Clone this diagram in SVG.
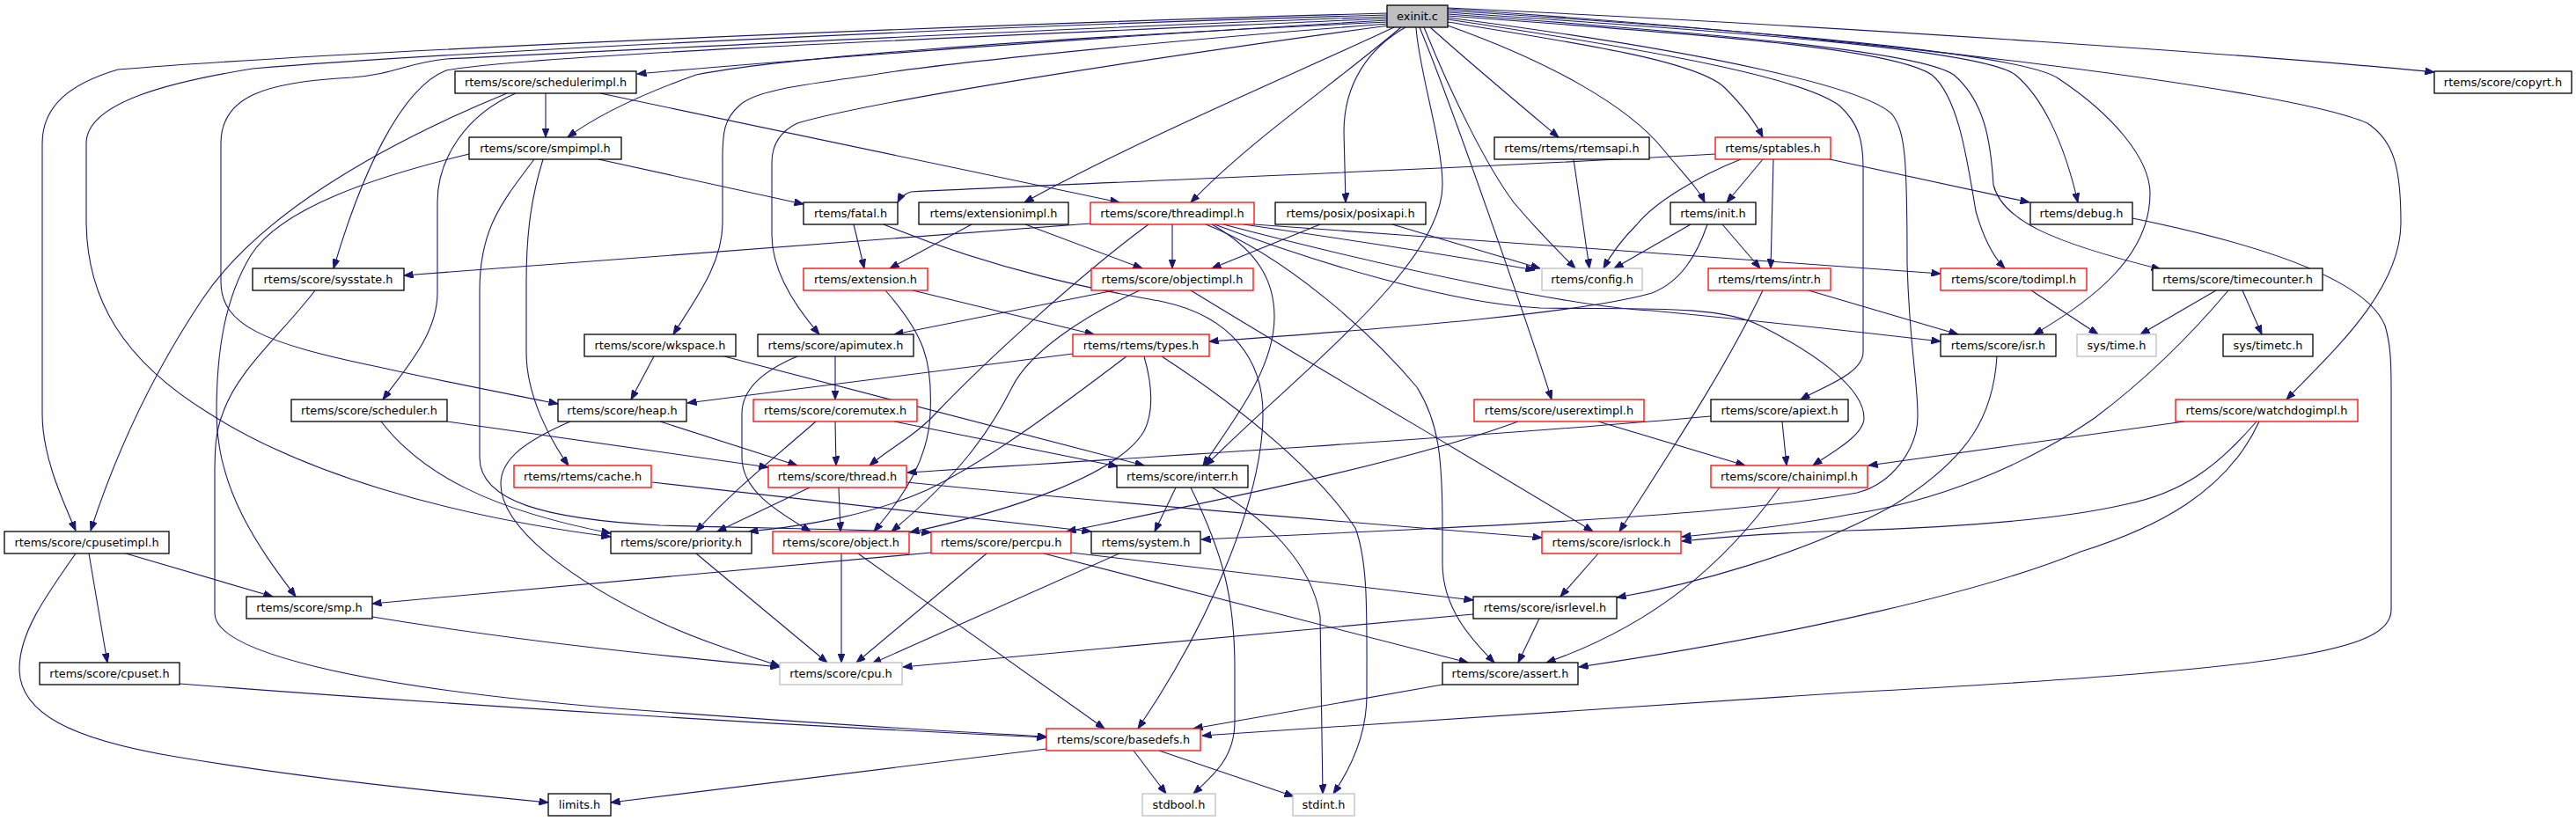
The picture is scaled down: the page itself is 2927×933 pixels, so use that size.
<svg xmlns="http://www.w3.org/2000/svg" width="2927" height="933" viewBox="0 0 2927 933">
<style>
.n rect{fill:#ffffff;stroke:#000000;stroke-width:1.3}
.n.r rect{stroke:#ff0000}
.n.g rect{stroke:#bfbfbf}
.n.s rect{fill:#bfbfbf}
.n text{font-family:"DejaVu Sans",sans-serif;font-size:12.9px;text-anchor:middle;fill:#000000}
#edges path{fill:none;stroke:#191970;stroke-width:1.1;marker-end:url(#ah)}
</style>
<defs>
<marker id="ah" markerUnits="userSpaceOnUse" markerWidth="11" markerHeight="8" refX="10.5" refY="4" orient="auto">
<path d="M0,0 L10.5,4 L0,8 z" fill="#191970" stroke="#191970" stroke-width="1"/>
</marker>
</defs>
<rect width="2927" height="933" fill="#ffffff"/>
<g id="edges">
<path d="M1576,15 C1100,28 400,57 134,79 C80,95 48,120 48,163 L48,470 C48,520 72,570 86,603"/>
<path d="M1576,17 C1100,30 500,60 287,78 C200,92 98,115 98,163 L98,250 C98,340 140,410 238,470 C340,535 500,585 694,610"/>
<path d="M1576,19 C1200,32 650,60 507,67 C460,72 450,84 400,88 C300,93 251,110 251,163 L251,320 C251,370 300,390 430,417 C520,437 580,448 634,459"/>
<path d="M1576,21 C1150,40 600,62 507,80 C455,100 410,200 379,305"/>
<path d="M1576,23 C1250,42 900,68 724,84"/>
<path d="M1577,25 C1150,45 880,67 791,85 C735,105 680,130 645,156"/>
<path d="M1577,27 C1300,48 1080,72 1011,82 C930,95 860,100 840,120 C823,135 821,150 821,180 L821,253 C821,300 790,340 765,380"/>
<path d="M1578,29 C1350,60 1000,112 906,140 C885,150 877,165 877,185 L877,267 C877,310 905,350 931,380"/>
<path d="M1584,31 C1480,80 1290,160 1164,230"/>
<path d="M1592,31 C1510,100 1420,160 1353,230"/>
<path d="M1597,31 C1555,55 1527,95 1527,150 L1529,230"/>
<path d="M1609,31 C1612,80 1639,160 1639,210 C1639,300 1480,420 1370,529"/>
<path d="M1613,31 C1650,120 1740,380 1763,454"/>
<path d="M1618,31 C1650,110 1690,190 1720,230 C1745,260 1770,285 1790,305"/>
<path d="M1625,31 C1680,80 1740,130 1771,156"/>
<path d="M1645,29 C1760,70 1850,120 1890,170 C1915,200 1930,215 1937,230"/>
<path d="M1645,25 C1800,50 1930,70 1960,100 C1980,120 1995,140 2003,156"/>
<path d="M1645,22 C1900,60 2050,90 2090,120 C2112,140 2117,160 2117,190 L2117,400 C2117,425 2070,440 2046,454"/>
<path d="M1645,20 C1950,60 2120,100 2150,130 C2165,150 2167,180 2167,300 C2170,400 2179,430 2179,473 C2179,510 2150,550 2110,560 C2000,580 1800,592 1600,602 C1500,607 1420,611 1365,613"/>
<path d="M1645,18 C1950,40 2150,55 2195,85 C2225,110 2235,180 2245,240 C2255,275 2268,295 2278,305"/>
<path d="M1645,16 C1950,38 2180,58 2220,85 C2255,115 2262,160 2265,210 C2275,250 2330,275 2455,306"/>
<path d="M1645,14 C1950,35 2250,55 2290,85 C2320,110 2345,160 2361,230"/>
<path d="M1645,12 C2000,35 2300,60 2340,90 C2400,130 2443,180 2443,220 C2443,290 2380,340 2311,380"/>
<path d="M1645,10 C2100,40 2600,100 2690,140 C2720,160 2728,190 2728,253 C2728,330 2650,400 2598,454"/>
<path d="M1645,9 C2100,30 2600,65 2766,82"/>
<path d="M620,106 L620,156"/>
<path d="M576,106 C420,170 290,250 230,340 C170,430 130,520 103,603"/>
<path d="M586,106 C530,130 497,180 497,230 L497,333 C497,380 460,420 435,454"/>
<path d="M682,106 L1272,230"/>
<path d="M680,181 L913,232"/>
<path d="M533,175 C430,200 320,235 285,290 C255,340 246,400 246,470 C246,560 300,630 336,678"/>
<path d="M607,181 C570,230 545,260 545,330 L545,520 C545,570 620,590 750,597 C850,600 950,601 1058,605"/>
<path d="M617,181 C605,220 598,260 598,320 L598,400 C598,450 625,500 646,529"/>
<path d="M970,255 L982,305"/>
<path d="M1004,255 C1150,315 1280,335 1322,343 C1400,360 1435,410 1435,470 C1435,560 1380,700 1293,828"/>
<path d="M1104,255 L1011,305"/>
<path d="M1165,255 L1298,305"/>
<path d="M1239,254 L459,313"/>
<path d="M1332,255 L1332,305"/>
<path d="M1305,255 C1230,310 1120,410 1063,470 C1040,495 1010,510 988,529"/>
<path d="M1413,255 C1550,275 1650,290 1744,307"/>
<path d="M1425,255 C1700,275 2000,295 2205,311"/>
<path d="M1390,255 C1600,310 1800,350 1877,353 C2000,365 2120,378 2205,388"/>
<path d="M1380,255 C1500,300 1650,345 1750,350 C1850,352 1950,345 2000,370 C2060,400 2118,440 2118,475 C2118,495 2080,515 2060,529"/>
<path d="M1377,255 C1430,285 1448,320 1448,360 C1448,420 1400,480 1367,529"/>
<path d="M1370,255 C1460,290 1560,380 1610,440 C1635,480 1639,520 1639,600 L1639,640 C1639,690 1670,725 1698,753"/>
<path d="M1266,330 L1016,380"/>
<path d="M1295,330 C1230,360 1170,400 1150,440 C1125,490 1090,540 1013,604"/>
<path d="M1353,330 C1500,420 1680,525 1810,604"/>
<path d="M1500,255 L1377,305"/>
<path d="M1582,255 L1750,305"/>
<path d="M1788,181 L1806,305"/>
<path d="M1949,175 C1700,190 1300,205 1035,218 C1028,220 1022,226 1020,230"/>
<path d="M1978,181 C1930,200 1880,230 1860,255 C1840,275 1830,290 1822,305"/>
<path d="M2003,181 L1962,230"/>
<path d="M2015,181 L2012,305"/>
<path d="M2079,181 L2306,230"/>
<path d="M1921,255 L1834,305"/>
<path d="M1957,255 L2000,305"/>
<path d="M1940,255 C1928,290 1910,320 1877,333 C1800,355 1600,372 1374,388"/>
<path d="M2423,248 C2580,280 2690,320 2710,370 C2716,390 2717,410 2717,440 L2717,693 C2717,740 2600,760 2100,787 C1800,805 1550,825 1366,836"/>
<path d="M2055,330 L2225,380"/>
<path d="M2003,330 C1960,420 1900,510 1840,604"/>
<path d="M2308,330 L2384,380"/>
<path d="M2518,330 L2432,380"/>
<path d="M2548,330 L2570,380"/>
<path d="M2532,330 C2490,380 2440,430 2380,475 C2300,530 2200,570 2100,585 C2050,595 1960,605 1911,610"/>
<path d="M2269,405 C2265,470 2240,520 2150,575 C2050,630 1920,665 1837,679"/>
<path d="M2482,479 L2123,529"/>
<path d="M2564,479 C2520,530 2480,560 2416,573 C2330,593 2200,600 2100,603 C2030,605 1960,610 1911,615"/>
<path d="M2567,479 C2530,560 2450,600 2364,627 C2260,670 2050,720 1794,758"/>
<path d="M1816,479 L1983,529"/>
<path d="M1725,479 C1600,525 1400,565 1212,604"/>
<path d="M2025,479 L2030,529"/>
<path d="M1944,473 C1700,495 1300,520 1031,537"/>
<path d="M2022,554 C1960,640 1880,710 1757,753"/>
<path d="M743,405 L717,454"/>
<path d="M823,405 L1300,529"/>
<path d="M949,405 L949,454"/>
<path d="M906,405 C870,420 843,440 843,470 L843,520 C843,560 890,585 921,604"/>
<path d="M1219,402 L781,458"/>
<path d="M1280,405 C1220,450 1130,520 1053,557 C990,585 920,597 851,604"/>
<path d="M1300,405 C1310,440 1310,470 1300,490 C1270,540 1150,580 1034,605"/>
<path d="M1320,405 C1420,470 1500,540 1540,600 C1555,640 1553,700 1553,790 C1553,840 1530,880 1515,902"/>
<path d="M1336,554 L1312,604"/>
<path d="M1353,554 C1390,630 1403,680 1403,760 L1403,820 C1403,860 1380,880 1356,902"/>
<path d="M1377,554 C1440,590 1490,640 1500,700 L1503,902"/>
<path d="M1037,330 L1243,380"/>
<path d="M1006,330 C1050,380 1060,410 1057,470 C1055,520 1030,560 993,604"/>
<path d="M949,479 L950,529"/>
<path d="M927,479 C880,520 830,560 791,604"/>
<path d="M1016,479 L1270,530"/>
<path d="M920,554 L815,604"/>
<path d="M953,554 L955,604"/>
<path d="M1030,548 C1300,575 1550,595 1752,611"/>
<path d="M741,548 L1240,604"/>
<path d="M750,479 L906,529"/>
<path d="M648,479 C600,500 569,520 569,550 C569,600 650,660 750,707 C800,730 850,745 886,757"/>
<path d="M433,479 C480,540 560,580 694,606"/>
<path d="M508,479 L873,531"/>
<path d="M358,330 C320,380 270,420 253,470 C245,490 244,510 244,540 L244,697 C244,740 400,780 700,805 C900,820 1050,830 1189,837"/>
<path d="M143,629 L310,678"/>
<path d="M101,629 L122,753"/>
<path d="M86,629 C50,680 22,720 22,760 C22,810 80,840 200,860 C350,885 500,900 623,912"/>
<path d="M204,777 C500,800 900,825 1189,838"/>
<path d="M423,701 C600,730 750,745 886,758"/>
<path d="M791,629 L940,753"/>
<path d="M956,629 L956,753"/>
<path d="M975,629 L1255,828"/>
<path d="M1121,629 L973,753"/>
<path d="M1058,628 L423,686"/>
<path d="M1217,628 L1674,682"/>
<path d="M1186,629 L1668,753"/>
<path d="M1272,629 L991,754"/>
<path d="M1816,629 L1773,678"/>
<path d="M1674,698 L1026,758"/>
<path d="M1749,703 L1725,753"/>
<path d="M1639,778 L1356,828"/>
<path d="M1189,851 L694,912"/>
<path d="M1288,853 L1325,902"/>
<path d="M1317,853 L1470,905"/>
</g>
<g id="n_exinit" class="n s"><rect x="1576" y="6" width="69" height="25"/><text x="1610.5" y="23">exinit.c</text></g>
<g id="n_schedimpl" class="n"><rect x="517" y="81" width="206" height="25"/><text x="620" y="98">rtems/score/schedulerimpl.h</text></g>
<g id="n_copyrt" class="n"><rect x="2766" y="81" width="156" height="25"/><text x="2844" y="98">rtems/score/copyrt.h</text></g>
<g id="n_smpimpl" class="n"><rect x="533" y="156" width="173" height="25"/><text x="619.5" y="173">rtems/score/smpimpl.h</text></g>
<g id="n_rtemsapi" class="n"><rect x="1698" y="156" width="176" height="25"/><text x="1786" y="173">rtems/rtems/rtemsapi.h</text></g>
<g id="n_sptables" class="n r"><rect x="1949" y="156" width="131" height="25"/><text x="2014.5" y="173">rtems/sptables.h</text></g>
<g id="n_fatal" class="n"><rect x="913" y="230" width="107" height="25"/><text x="966.5" y="247">rtems/fatal.h</text></g>
<g id="n_extimpl" class="n"><rect x="1044" y="230" width="170" height="25"/><text x="1129" y="247">rtems/extensionimpl.h</text></g>
<g id="n_threadimpl" class="n r"><rect x="1239" y="230" width="186" height="25"/><text x="1332" y="247">rtems/score/threadimpl.h</text></g>
<g id="n_posixapi" class="n"><rect x="1449" y="230" width="171" height="25"/><text x="1534.5" y="247">rtems/posix/posixapi.h</text></g>
<g id="n_init" class="n"><rect x="1898" y="230" width="97" height="25"/><text x="1946.5" y="247">rtems/init.h</text></g>
<g id="n_debug" class="n"><rect x="2307" y="230" width="116" height="25"/><text x="2365" y="247">rtems/debug.h</text></g>
<g id="n_sysstate" class="n"><rect x="287" y="305" width="172" height="25"/><text x="373" y="322">rtems/score/sysstate.h</text></g>
<g id="n_extension" class="n r"><rect x="913" y="305" width="141" height="25"/><text x="983.5" y="322">rtems/extension.h</text></g>
<g id="n_objimpl" class="n r"><rect x="1240" y="305" width="184" height="25"/><text x="1332" y="322">rtems/score/objectimpl.h</text></g>
<g id="n_config" class="n g"><rect x="1752" y="305" width="114" height="25"/><text x="1809" y="322">rtems/config.h</text></g>
<g id="n_intr" class="n r"><rect x="1941" y="305" width="139" height="25"/><text x="2010.5" y="322">rtems/rtems/intr.h</text></g>
<g id="n_todimpl" class="n r"><rect x="2205" y="305" width="166" height="25"/><text x="2288" y="322">rtems/score/todimpl.h</text></g>
<g id="n_timecounter" class="n"><rect x="2446" y="305" width="193" height="25"/><text x="2542.5" y="322">rtems/score/timecounter.h</text></g>
<g id="n_wkspace" class="n"><rect x="664" y="380" width="172" height="25"/><text x="750" y="397">rtems/score/wkspace.h</text></g>
<g id="n_apimutex" class="n"><rect x="861" y="380" width="177" height="25"/><text x="949.5" y="397">rtems/score/apimutex.h</text></g>
<g id="n_types" class="n r"><rect x="1219" y="380" width="155" height="25"/><text x="1296.5" y="397">rtems/rtems/types.h</text></g>
<g id="n_isr" class="n"><rect x="2205" y="380" width="131" height="25"/><text x="2270.5" y="397">rtems/score/isr.h</text></g>
<g id="n_systime" class="n g"><rect x="2360" y="380" width="90" height="25"/><text x="2405" y="397">sys/time.h</text></g>
<g id="n_timetc" class="n"><rect x="2526" y="380" width="102" height="25"/><text x="2577" y="397">sys/timetc.h</text></g>
<g id="n_scheduler" class="n"><rect x="331" y="454" width="177" height="25"/><text x="419.5" y="471">rtems/score/scheduler.h</text></g>
<g id="n_heap" class="n"><rect x="634" y="454" width="146" height="25"/><text x="707" y="471">rtems/score/heap.h</text></g>
<g id="n_coremutex" class="n r"><rect x="856" y="454" width="186" height="25"/><text x="949" y="471">rtems/score/coremutex.h</text></g>
<g id="n_userext" class="n r"><rect x="1675" y="454" width="193" height="25"/><text x="1771.5" y="471">rtems/score/userextimpl.h</text></g>
<g id="n_apiext" class="n"><rect x="1944" y="454" width="156" height="25"/><text x="2022" y="471">rtems/score/apiext.h</text></g>
<g id="n_watchdog" class="n r"><rect x="2472" y="454" width="207" height="25"/><text x="2575.5" y="471">rtems/score/watchdogimpl.h</text></g>
<g id="n_cache" class="n r"><rect x="584" y="529" width="156" height="25"/><text x="662" y="546">rtems/rtems/cache.h</text></g>
<g id="n_thread" class="n r"><rect x="873" y="529" width="157" height="25"/><text x="951.5" y="546">rtems/score/thread.h</text></g>
<g id="n_interr" class="n"><rect x="1269" y="529" width="149" height="25"/><text x="1343.5" y="546">rtems/score/interr.h</text></g>
<g id="n_chainimpl" class="n r"><rect x="1944" y="529" width="178" height="25"/><text x="2033" y="546">rtems/score/chainimpl.h</text></g>
<g id="n_cpusetimpl" class="n"><rect x="5" y="604" width="187" height="25"/><text x="98.5" y="621">rtems/score/cpusetimpl.h</text></g>
<g id="n_priority" class="n"><rect x="694" y="604" width="160" height="25"/><text x="774" y="621">rtems/score/priority.h</text></g>
<g id="n_object" class="n r"><rect x="878" y="604" width="155" height="25"/><text x="955.5" y="621">rtems/score/object.h</text></g>
<g id="n_percpu" class="n r"><rect x="1058" y="604" width="159" height="25"/><text x="1137.5" y="621">rtems/score/percpu.h</text></g>
<g id="n_system" class="n"><rect x="1240" y="604" width="124" height="25"/><text x="1302" y="621">rtems/system.h</text></g>
<g id="n_isrlock" class="n r"><rect x="1752" y="604" width="158" height="25"/><text x="1831" y="621">rtems/score/isrlock.h</text></g>
<g id="n_smp" class="n"><rect x="280" y="678" width="143" height="25"/><text x="351.5" y="695">rtems/score/smp.h</text></g>
<g id="n_isrlevel" class="n"><rect x="1674" y="678" width="163" height="25"/><text x="1755.5" y="695">rtems/score/isrlevel.h</text></g>
<g id="n_cpuset" class="n"><rect x="45" y="753" width="159" height="25"/><text x="124.5" y="770">rtems/score/cpuset.h</text></g>
<g id="n_cpu" class="n g"><rect x="886" y="753" width="139" height="25"/><text x="955.5" y="770">rtems/score/cpu.h</text></g>
<g id="n_assert" class="n"><rect x="1639" y="753" width="154" height="25"/><text x="1716" y="770">rtems/score/assert.h</text></g>
<g id="n_basedefs" class="n r"><rect x="1189" y="828" width="175" height="25"/><text x="1276.5" y="845">rtems/score/basedefs.h</text></g>
<g id="n_limits" class="n"><rect x="623" y="902" width="71" height="25"/><text x="658.5" y="919">limits.h</text></g>
<g id="n_stdbool" class="n g"><rect x="1298" y="902" width="83" height="25"/><text x="1339.5" y="919">stdbool.h</text></g>
<g id="n_stdint" class="n g"><rect x="1469" y="902" width="70" height="25"/><text x="1504" y="919">stdint.h</text></g>
</svg>
